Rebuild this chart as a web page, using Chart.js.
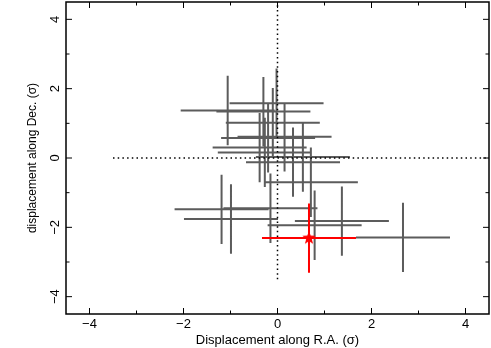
<!DOCTYPE html>
<html>
<head>
<meta charset="utf-8">
<script src="https://cdn.jsdelivr.net/npm/chart.js@4/dist/chart.umd.min.js"></script>
<style>
  html, body { margin: 0; padding: 0; background: #fff; }
  #wrap { width: 491px; height: 348px; }
</style>
</head>
<body>
<div id="wrap"><canvas id="offsetChart"></canvas></div>
<script>
// source offsets, in units of sigma
var raOffsets  = [-0.02, -1.06, -0.30, -0.10, -0.20, 0.15, -0.38, -0.27, 0.54, 0.33, 0.71, -1.19, -0.15, -0.99, 1.37, 0.79, 2.67];
var decOffsets = [1.58, 1.37, 1.34, 1.02, 0.58, 0.61, 0.30, 0.16, 0.03, -0.12, -0.70, -1.48, -1.45, -1.76, -1.82, -1.94, -2.29];
var raErrors   = [1, 1, 1, 1, 1, 1, 1, 1, 1, 1, 1, 1, 1, 1, 1, 1, 1];
var decErrors  = [1, 1, 1, 1, 1, 1, 1, 1, 1, 1, 1, 1, 1, 1, 1, 1, 1];

// highlighted source
var targetRa = [0.67];
var targetDec = [-2.31];
var targetRaErr = [1];
var targetDecErr = [1];

var axisTicks = [-4, -3, -2, -1, 0, 1, 2, 3, 4];
var zeroLineFrom = -3.5;
var zeroLineTo = 4.5;

var FONT = '"Liberation Sans", Arial, sans-serif';

function fmt(v) {
  return v < 0 ? "\u2212" + Math.abs(v) : String(v);
}

// error bar crosses as line segments broken by gaps
function crossSegments(xs, ys, xe, ye) {
  var pts = [];
  xs.forEach(function (x, i) {
    var y = ys[i];
    pts.push({ x: x - xe[i], y: y }, { x: x + xe[i], y: y }, { x: x, y: null });
    pts.push({ x: x, y: y - ye[i] }, { x: x, y: y + ye[i] }, { x: x, y: null });
  });
  return pts;
}

// filled star used as the marker
function makeStar(r, color) {
  var c = document.createElement("canvas");
  c.width = c.height = r * 2 + 2;
  var g = c.getContext("2d");
  g.translate(r + 1, r + 1);
  g.beginPath();
  for (var k = 0; k < 10; k++) {
    var rad = k % 2 === 0 ? r : r * 0.42;
    var ang = -Math.PI / 2 + k * Math.PI / 5;
    g.lineTo(rad * Math.cos(ang), rad * Math.sin(ang));
  }
  g.closePath();
  g.fillStyle = color;
  g.fill();
  return c;
}

// box, inward ticks on all sides, and tick labels
var frameTicks = {
  id: "frameTicks",
  afterDatasetsDraw: function (chart) {
    var ctx = chart.ctx, a = chart.chartArea;
    var xs = chart.scales.x, ys = chart.scales.y;
    ctx.save();
    ctx.strokeStyle = "#000";
    ctx.lineWidth = 1.5;
    ctx.strokeRect(a.left, a.top, a.right - a.left, a.bottom - a.top);
    ctx.lineWidth = 1;
    ctx.fillStyle = "#000";
    ctx.font = "13px " + FONT;
    ctx.textAlign = "center";
    ctx.textBaseline = "middle";
    axisTicks.forEach(function (v) {
      var len = v % 2 === 0 ? 6 : 3.5;
      var px = xs.getPixelForValue(v), py = ys.getPixelForValue(v);
      ctx.beginPath();
      ctx.moveTo(px, a.bottom); ctx.lineTo(px, a.bottom - len);
      ctx.moveTo(px, a.top); ctx.lineTo(px, a.top + len);
      ctx.moveTo(a.left, py); ctx.lineTo(a.left + len, py);
      ctx.moveTo(a.right, py); ctx.lineTo(a.right - len, py);
      ctx.stroke();
      if (v % 2 === 0) {
        ctx.fillText(fmt(v), px, a.bottom + 10);
        // y labels are rotated like the axis title
        ctx.save();
        ctx.translate(a.left - 11, py);
        ctx.rotate(-Math.PI / 2);
        ctx.fillText(fmt(v), 0, 0);
        ctx.restore();
      }
    });
    ctx.restore();
  }
};

var ctx = document.getElementById("offsetChart").getContext("2d");

new Chart(ctx, {
  type: "scatter",
  data: {
    datasets: [
      {
        label: "target",
        data: targetRa.map(function (x, i) { return { x: x, y: targetDec[i] }; }),
        pointStyle: makeStar(7, "#ff0000"),
        pointRadius: 7,
        showLine: false
      },
      {
        label: "target errors",
        data: crossSegments(targetRa, targetDec, targetRaErr, targetDecErr),
        showLine: true,
        borderColor: "#ff0000",
        borderWidth: 2,
        pointRadius: 0,
        spanGaps: false
      },
      {
        label: "zero lines",
        data: [
          { x: zeroLineFrom, y: 0 }, { x: zeroLineTo, y: 0 }, { x: 0, y: null },
          { x: 0, y: zeroLineFrom }, { x: 0, y: zeroLineTo }
        ],
        showLine: true,
        borderColor: "#000",
        borderWidth: 1.5,
        borderDash: [1.5, 3.2],
        pointRadius: 0,
        spanGaps: false
      },
      {
        label: "sources",
        data: crossSegments(raOffsets, decOffsets, raErrors, decErrors),
        showLine: true,
        borderColor: "#5c5c5c",
        borderWidth: 2,
        pointRadius: 0,
        spanGaps: false
      }
    ]
  },
  options: {
    responsive: true,
    maintainAspectRatio: false,
    animation: false,
    events: [],
    layout: { autoPadding: false, padding: { top: 2, right: 2, left: 0, bottom: 0 } },
    scales: {
      x: {
        type: "linear",
        min: -4.5,
        max: 4.5,
        afterBuildTicks: function (scale) {
          scale.ticks = axisTicks.map(function (v) { return { value: v }; });
        },
        afterFit: function (scale) { scale.height = 34; },
        grid: { display: false, drawTicks: false },
        border: { display: false },
        ticks: { display: false },
        title: {
          display: true,
          text: "Displacement along R.A. (\u03c3)",
          color: "#000",
          padding: { top: 0, bottom: 0 },
          font: { family: FONT, size: 13 }
        }
      },
      y: {
        type: "linear",
        min: -4.5,
        max: 4.5,
        afterBuildTicks: function (scale) {
          scale.ticks = axisTicks.map(function (v) { return { value: v }; });
        },
        afterFit: function (scale) { scale.width = 66; },
        grid: { display: false, drawTicks: false },
        border: { display: false },
        ticks: { display: false },
        title: {
          display: true,
          text: "displacement along Dec. (\u03c3)",
          color: "#000",
          padding: { top: 25, bottom: 0 },
          font: { family: FONT, size: 12 }
        }
      }
    },
    plugins: {
      legend: { display: false },
      tooltip: { enabled: false }
    }
  },
  plugins: [frameTicks]
});
</script>
</body>
</html>
